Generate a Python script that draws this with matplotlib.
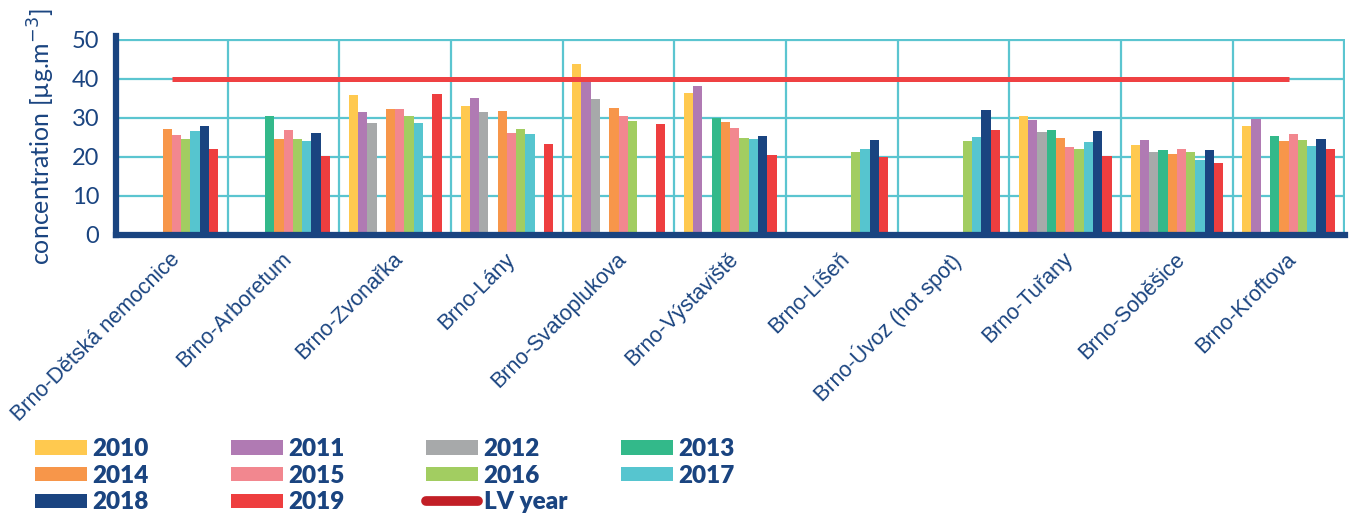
import matplotlib.pyplot as plt
import numpy as np
from matplotlib.lines import Line2D

nan = np.nan

stations = ['Brno-Dětská nemocnice', 'Brno-Arboretum', 'Brno-Zvonařka', 'Brno-Lány',
            'Brno-Svatoplukova', 'Brno-Výstaviště', 'Brno-Líšeň', 'Brno-Úvoz (hot spot)',
            'Brno-Tuřany', 'Brno-Soběšice', 'Brno-Kroftova']
years = ['2010', '2011', '2012', '2013', '2014', '2015', '2016', '2017', '2018', '2019']

# annual mean NO2 per station, NaN where the station did not measure
y2010 = [nan, nan, 35.8, 33.1, 43.8, 36.3, nan, nan, 30.5, 23.0, 27.8]
y2011 = [nan, nan, 31.4, 35.2, 39.2, 38.1, nan, nan, 29.5, 24.2, 29.6]
y2012 = [nan, nan, 28.8, 31.4, 34.8, nan, nan, nan, 26.3, 21.3, nan]
y2013 = [nan, 30.6, nan, nan, nan, 30.0, nan, nan, 26.8, 21.7, 25.4]
y2014 = [27.2, 24.5, 32.2, 31.7, 32.4, 28.9, nan, nan, 24.8, 20.7, 24.1]
y2015 = [25.5, 26.9, 32.2, 26.2, 30.4, 27.5, nan, nan, 22.6, 21.9, 25.8]
y2016 = [24.7, 24.7, 30.6, 27.2, 29.2, 24.9, 21.2, 24.0, 22.1, 21.3, 24.2]
y2017 = [26.5, 24.1, 28.8, 25.9, nan, 24.5, 21.9, 25.1, 23.9, 19.1, 22.8]
y2018 = [27.8, 26.0, nan, nan, nan, 25.4, 24.4, 31.9, 26.5, 21.7, 24.5]
y2019 = [21.9, 20.3, 36.2, 23.4, 28.3, 20.4, 20.0, 26.8, 20.2, 18.3, 21.9]
series = [y2010, y2011, y2012, y2013, y2014, y2015, y2016, y2017, y2018, y2019]

lv_limit = 40
yticks = [0, 10, 20, 30, 40, 50]

colors = ['#FFC94F', '#B07AB3', '#A7A9AA', '#33B98A', '#F7964A',
          '#F2878F', '#A2CD61', '#56C5CF', '#1A4480', '#EE3E3F']
navy = '#1A4480'
grid_c = '#5BC5D0'

fig = plt.figure(figsize=(13.49, 5.13), dpi=100)
ax = fig.add_axes([0.086, 0.5423, 0.9114, 0.3811])

x = np.arange(len(stations))
width = 0.083
handles = []
for i, (yr, vals) in enumerate(zip(years, series)):
    bars = ax.bar(x + (i - 4.5) * width, vals, width, color=colors[i], label=yr, zorder=2)
    handles.append(bars)

ax.plot([x[0], x[-1]], [lv_limit, lv_limit], color='#EF4143', lw=3.6,
        solid_capstyle='butt', zorder=3)

ax.set_xlim(-0.5, len(stations) - 0.49)
ax.set_ylim(0, 50.15)
ax.set_yticks(yticks)
# station names hang a little right of the group centre
ax.set_xticks(x + 0.11)
ax.set_xticks(x + 0.5, minor=True)
ax.set_xticklabels(stations, rotation=45, ha='right', fontsize=15.5,
                   family='Liberation Sans', color=navy)
ax.tick_params(axis='x', which='both', length=0, pad=10)
ax.tick_params(axis='y', length=0, pad=12, labelsize=17, labelcolor=navy)
for lab in ax.get_yticklabels():
    lab.set_family('Lato')

ax.grid(True, axis='y', color=grid_c, lw=1.6)
ax.grid(True, axis='x', which='minor', color=grid_c, lw=1.6)
ax.grid(False, axis='x', which='major')
ax.set_axisbelow(True)

for side in ['top', 'right']:
    ax.spines[side].set_visible(False)
ax.spines['left'].set_linewidth(4.5)
ax.spines['bottom'].set_linewidth(4.5)
ax.spines['left'].set_color(navy)
ax.spines['bottom'].set_color(navy)
ax.spines['left'].set_bounds(0, 50.9)

ax.set_ylabel('concentration [µg.m$^{-3}$]', fontsize=18, color=navy, family='Lato')
ax.yaxis.set_label_coords(-0.048, 0.5)

lv_handle = Line2D([], [], color='#C21F26', lw=7, solid_capstyle='round')
entries = handles + [lv_handle]
labels = years + ['LV year']

# legend laid out row by row in four fixed columns
col_x = [0.026, 0.171, 0.316, 0.460]
for c in range(4):
    leg = fig.legend(entries[c::4], labels[c::4], loc='upper left',
                     bbox_to_anchor=(col_x[c], 0.146), frameon=False,
                     borderpad=0, borderaxespad=0, handlelength=2.14,
                     handleheight=0.53, handletextpad=0.22, labelspacing=0.19,
                     prop={'family': 'Lato', 'weight': 'heavy', 'size': 17.5})
    for t in leg.get_texts():
        t.set_color(navy)

fig.savefig('out.png', dpi=100)
